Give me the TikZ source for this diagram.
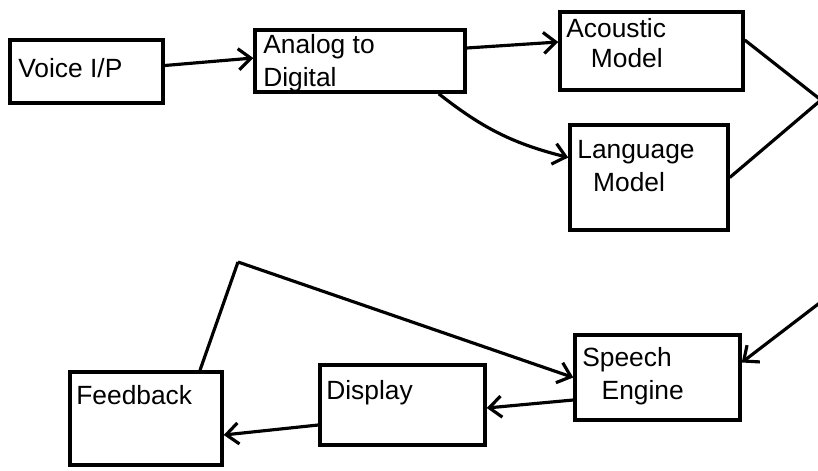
\documentclass[tikz,border=0pt]{standalone}
\usepackage{fontspec}
\setmainfont{Liberation Sans}
\usetikzlibrary{arrows.meta}
\begin{document}
\begin{tikzpicture}[x=0.02cm, y=-0.02cm,
  blockbox/.style={draw, line width=2pt, inner sep=0pt, rectangle},
  blocktext/.style={anchor=north west, inner sep=0pt, align=left,
    font=\fontsize{15}{19}\selectfont},
  flow/.style={line width=1.8pt, -{Straight Barb[length=7pt, width=12pt, line width=1.8pt]}},
  wire/.style={line width=1.8pt, line join=round}]
  \clip (0,0) rectangle (818,470);
  \fill[white] (0,0) rectangle (818,470);

  % blocks
  \node[blockbox, minimum width=3.06cm, minimum height=1.26cm] (voice)    at (86.5,71.5)  {};
  \node[blockbox, minimum width=4.20cm, minimum height=1.24cm] (adc)      at (360,61)     {};
  \node[blockbox, minimum width=3.66cm, minimum height=1.56cm] (acoustic) at (651.5,51)   {};
  \node[blockbox, minimum width=3.16cm, minimum height=2.10cm] (language) at (649,177.5)  {};
  \node[blockbox, minimum width=3.30cm, minimum height=1.70cm] (speech)   at (657.5,377.5){};
  \node[blockbox, minimum width=3.30cm, minimum height=1.60cm] (display)  at (402.5,405)  {};
  \node[blockbox, minimum width=3.04cm, minimum height=1.86cm] (feedback) at (146,418.5)  {};

  % labels
  \node[blocktext] (voiceText)    at (18,58)   {Voice I/P};
  \node[blocktext] (adcText)      at (263,34)  {Analog to\\Digital};
  \node[blocktext, font=\fontsize{15}{17}\selectfont] (acousticText) at (566,18) {Acoustic\\\hspace{14pt}Model};
  \node[blocktext] (languageText) at (577,140) {Language\\\hspace{9pt}Model};
  \node[blocktext] (speechText)   at (582,347) {Speech\\\hspace{11pt}Engine};
  \node[blocktext] (displayText)  at (326,380) {Display};
  \node[blocktext] (feedbackText) at (76,385)  {Feedback};

  % routing points
  \coordinate (joinTop)  at (821,100);
  \coordinate (joinLow)  at (830,295);
  \coordinate (loopTop)  at (238,262);

  % connectors
  \draw[flow] ([yshift=0.12cm]voice.east) -- ([yshift=0.06cm]adc.west);
  \draw[flow] ([yshift=0.26cm]adc.east) -- ([yshift=0.18cm]acoustic.west);
  \draw[flow] ([xshift=-0.56cm]adc.south east) to[bend right=12] ([yshift=0.4cm]language.west);
  \draw[wire] ([yshift=0.22cm]acoustic.east) -- (joinTop);
  \draw[wire] (language.east) -- (joinTop) -- (joinLow);
  \draw[flow] (joinLow) -- ([yshift=0.3cm]speech.east);
  \draw[flow] ([yshift=-0.45cm]speech.west) -- ([yshift=-0.06cm]display.east);
  \draw[flow] ([yshift=-0.4cm]display.west) -- ([yshift=-0.33cm]feedback.east);
  \draw[wire] ([xshift=1.08cm]feedback.north) -- (loopTop);
  \draw[flow] (loopTop) -- (speech.west);
\end{tikzpicture}
\end{document}
